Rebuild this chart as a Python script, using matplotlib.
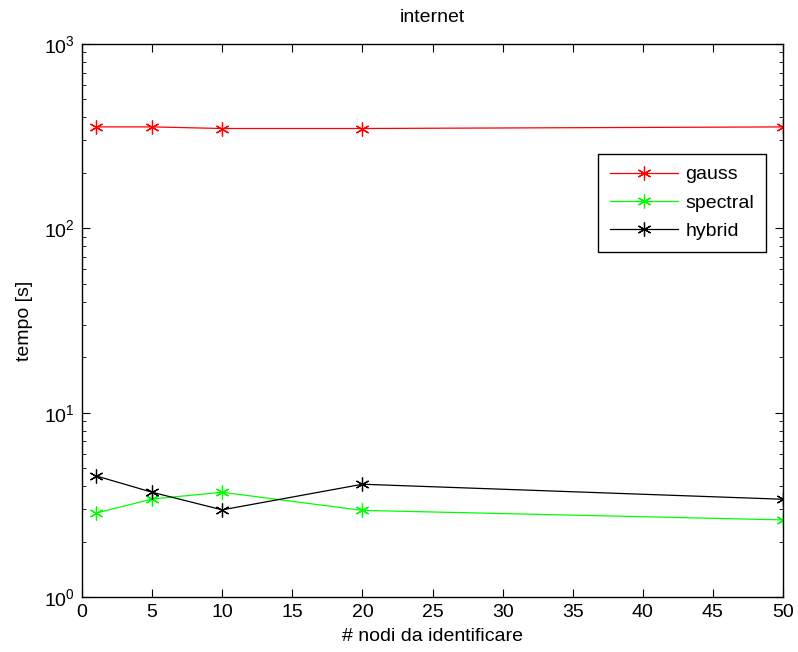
import matplotlib
matplotlib.use("Agg")
import matplotlib.pyplot as plt

plt.rcParams['font.family'] = ['Liberation Sans', 'DejaVu Sans']
plt.rcParams['font.size'] = 14
plt.rcParams['mathtext.fontset'] = 'custom'
plt.rcParams['mathtext.rm'] = 'Liberation Sans'

# data
nodi = [1, 5, 10, 20, 50]
gauss = [355, 355, 348, 348, 355]
spectral = [2.85, 3.40, 3.70, 2.95, 2.62]
hybrid = [4.54, 3.70, 2.97, 4.09, 3.39]

fig = plt.figure(figsize=(7.98, 6.52), dpi=100)
ax = fig.add_axes([82/798, 1 - 597/652, 701/798, 553/652])

mk = (6, 2, 0)
ax.plot(nodi, gauss, color='red', lw=0.9, marker=mk, ms=10, mew=0.9, label='gauss')
ax.plot(nodi, spectral, color='#00ff00', lw=0.9, marker=mk, ms=10, mew=0.9, label='spectral')
ax.plot(nodi, hybrid, color='black', lw=0.9, marker=mk, ms=10, mew=0.9, label='hybrid')

ax.set_yscale('log')
ax.set_xlim(0, 50)
ax.set_ylim(1, 1000)
ax.set_xticks(range(0, 51, 5))
ax.tick_params(which='both', direction='in', top=True, right=True, labelsize=14)
ax.tick_params(which='major', length=6, pad=5)
ax.tick_params(which='minor', length=3)
for s in ax.spines.values():
    s.set_linewidth(1.0)

ax.set_title('internet', fontsize=14, pad=16)
ax.set_xlabel('# nodi da identificare', fontsize=14, labelpad=5)
ax.set_ylabel('tempo [s]', fontsize=14, labelpad=8)

leg = ax.legend(loc='upper left', bbox_to_anchor=(0.736, 0.801), borderaxespad=0,
                fancybox=False, edgecolor='black', framealpha=1, fontsize=14,
                handlelength=3.5, handletextpad=0.4, borderpad=0.6,
                labelspacing=0.55)
leg.get_frame().set_linewidth(1.0)

fig.savefig('out.png', dpi=100)
